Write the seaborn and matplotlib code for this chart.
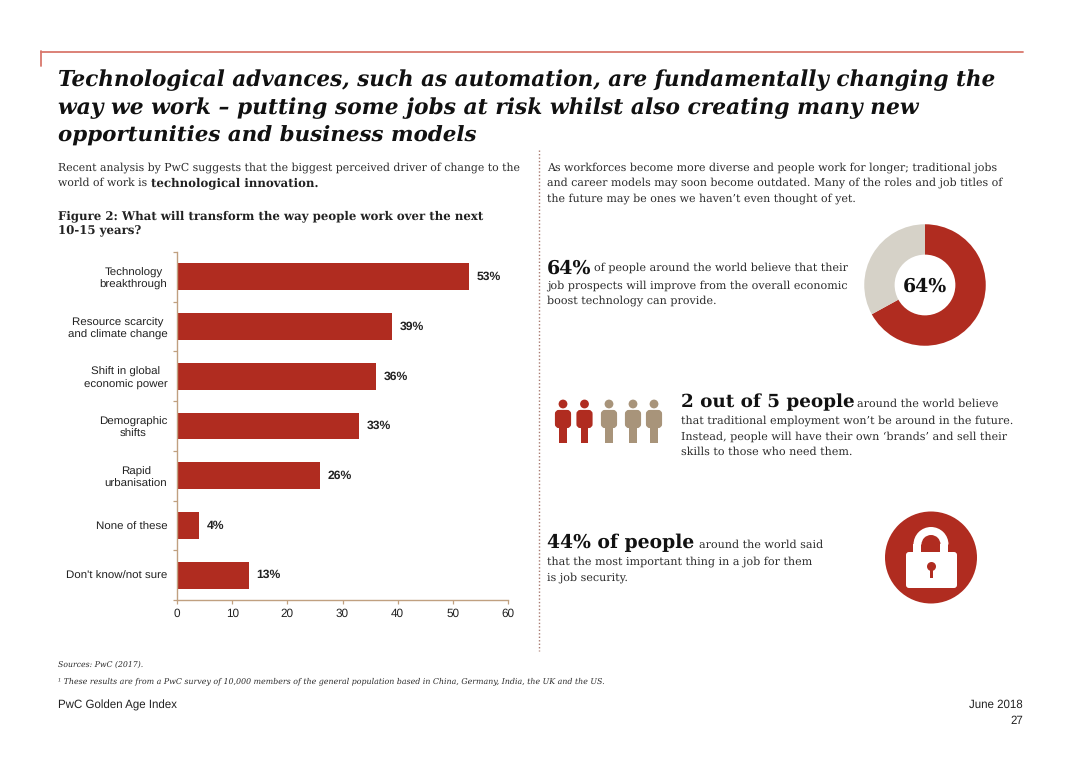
import matplotlib
matplotlib.use("Agg")
import matplotlib.pyplot as plt
from matplotlib.patches import Circle, FancyBboxPatch, Rectangle, Wedge
import pandas as pd
import seaborn as sns

categories = ["Technology\nbreakthrough", "Resource scarcity\nand climate change",
              "Shift in global\neconomic power", "Demographic\nshifts",
              "Rapid\nurbanisation", "None of these", "Don't know/not sure"]
values = [53, 39, 36, 33, 26, 4, 13]
x_ticks = [0, 10, 20, 30, 40, 50, 60]
# the ring as drawn in the reference is a little over its 64% label
donut_values = [67, 33]
donut_label = "64%"
people_total = 5
people_red = 2

RED = "#b02c20"
TAN = "#a8947a"
GREY = "#d6d2c8"
AXIS = "#c0a080"
SERIF = "DejaVu Serif"
SANS = "Liberation Sans"
W, H = 1080, 764
BODY = 7.95
TEXT = 8.05
BOLD = 8.45
BIG = 13.5

sns.set_theme(style="white")
plt.rcParams["font.family"] = SANS
plt.rcParams["text.hinting"] = "none"

fig = plt.figure(figsize=(W / 100, H / 100), dpi=100, facecolor="white")


def px_axes(x0, y0, x1, y1, **kw):
    # axes from pixel box, y counted from the top
    return fig.add_axes([x0 / W, 1 - y1 / H, (x1 - x0) / W, (y1 - y0) / H], **kw)


def txt(x, y, s, size=BODY, family=SERIF, color="#2b2b2b", **kw):
    kw.setdefault("va", "baseline")
    return fig.text(x / W, 1 - y / H, s, fontsize=size, family=family, color=color, **kw)


# page furniture
bg = px_axes(0, 0, W, H)
bg.set_xlim(0, W)
bg.set_ylim(H, 0)
bg.axis("off")
bg.plot([41, 1023], [51.5, 51.5], color="#d9776c", lw=1.3)
bg.plot([41, 41], [51, 66], color="#d9776c", lw=1.3)
bg.plot([538.5, 538.5], [150, 651], color="#a87a70", lw=1.0, ls=(0, (1, 1.5)))

# title
for y, size, line in zip([86, 114, 142], [15.53, 15.7, 15.37], [
    "Technological advances, such as automation, are fundamentally changing the",
    "way we work \u2013 putting some jobs at risk whilst also creating many new",
    "opportunities and business models",
]):
    txt(58, y, line, size=size, weight="bold", style="italic", color="#111111")

# left text
txt(58, 171, "Recent analysis by PwC suggests that the biggest perceived driver of change to the", size=7.84)
txt(58, 186, "world of work is", size=7.84)
txt(151, 186, "technological innovation.", size=BOLD, weight="bold", color="#222222")
txt(58, 219, "Figure 2: What will transform the way people work over the next", size=BOLD, weight="bold", color="#222222")
txt(58, 234, "10-15 years?", size=BOLD, weight="bold", color="#222222")

# right text
for y, line in zip([171, 186, 202], [
    "As workforces become more diverse and people work for longer; traditional jobs",
    "and career models may soon become outdated. Many of the roles and job titles of",
    "the future may be ones we haven\u2019t even thought of yet.",
]):
    txt(547, y, line)

# bar chart
ax = px_axes(177, 252, 508, 600)
df = pd.DataFrame({"category": categories, "value": values})
sns.barplot(df, x="value", y="category", color=RED, saturation=1, width=0.54, linewidth=0, ax=ax)
ax.set_xlim(0, 60)
ax.set_ylim(6.5, -0.5)
ax.set_xlabel("")
ax.set_ylabel("")
ax.set_xticks(x_ticks)
ax.set_yticks([i - 0.5 for i in range(len(categories) + 1)], minor=True)
ax.set_yticks(range(len(categories)))
ax.set_yticklabels(categories, fontsize=8.25, color="#222222", linespacing=1.27, multialignment="center")
ax.tick_params(axis="x", which="major", length=3, width=0.9, color=AXIS, labelsize=8.5,
               labelcolor="#222222", bottom=True, pad=3)
ax.tick_params(axis="y", which="major", length=0, pad=7)
ax.tick_params(axis="y", which="minor", length=3, width=0.9, color=AXIS, left=True)
sns.despine(ax=ax)
for side in ["left", "bottom"]:
    ax.spines[side].set_color(AXIS)
    ax.spines[side].set_linewidth(1.0)
for cont in ax.containers:
    ax.bar_label(cont, fmt="%g%%", padding=5.5, fontsize=8.7, fontweight="bold", color="#222222")

# 64% block
txt(547, 274, "64%", size=13.7, weight="bold", color="#111111")
txt(594, 271, "of people around the world believe that their", size=TEXT)
txt(547, 289, "job prospects will improve from the overall economic", size=TEXT)
txt(547, 304, "boost technology can provide.", size=TEXT)

# donut
ax_d = px_axes(860, 220, 990, 350)
ax_d.pie(donut_values, colors=[RED, GREY], startangle=90, counterclock=False, radius=1,
         wedgeprops={"width": 0.5, "linewidth": 0})
ax_d.set_xlim(-1.07, 1.07)
ax_d.set_ylim(-1.07, 1.07)
ax_d.text(0, -0.02, donut_label, ha="center", va="center", fontsize=13.6,
          weight="bold", family=SERIF, color="#111111")

# people row
ax_p = px_axes(550, 392, 670, 450)
ax_p.set_xlim(550, 670)
ax_p.set_ylim(450, 392)
ax_p.axis("off")
for i, cx in enumerate([563, 584.5, 609, 633, 654][:people_total]):
    c = RED if i < people_red else TAN
    ax_p.add_patch(Circle((cx, 404), 4.4, color=c, lw=0))
    ax_p.add_patch(FancyBboxPatch((cx - 6, 412), 12, 14, boxstyle="round,pad=0,rounding_size=2",
                                  mutation_aspect=1, fc=c, ec=c, lw=3))
    ax_p.add_patch(Rectangle((cx - 3.7, 428), 7.4, 15, color=c, lw=0))

# 2 out of 5 block
txt(681, 407, "2 out of 5 people", size=13.2, weight="bold", color="#111111")
txt(857, 407, "around the world believe", size=TEXT)
txt(681, 424, "that traditional employment won\u2019t be around in the future.", size=TEXT)
txt(681, 440, "Instead, people will have their own \u2018brands\u2019 and sell their", size=TEXT)
txt(681, 455, "skills to those who need them.", size=TEXT)

# 44% block
txt(547, 548, "44% of people", size=BIG, weight="bold", color="#111111")
txt(699, 548, "around the world said", size=TEXT)
txt(547, 565, "that the most important thing in a job for them", size=TEXT)
txt(547, 581, "is job security.", size=TEXT)

# lock icon
ax_l = px_axes(880, 508, 980, 608)
ax_l.set_xlim(880, 980)
ax_l.set_ylim(608, 508)
ax_l.axis("off")
ax_l.add_patch(Circle((931, 557.5), 46, color=RED, lw=0))
ax_l.add_patch(Wedge((931, 544.5), 17.5, 180, 360, width=8, color="white", lw=0))
ax_l.add_patch(Rectangle((913.5, 544), 8, 10, color="white", lw=0))
ax_l.add_patch(Rectangle((940.5, 544), 8, 10, color="white", lw=0))
ax_l.add_patch(FancyBboxPatch((906, 552), 51, 36, boxstyle="round,pad=0,rounding_size=3", fc="white", ec="none"))
ax_l.add_patch(Circle((931.5, 566.5), 4.5, color=RED, lw=0))
ax_l.add_patch(Rectangle((930, 567), 3, 11, color=RED, lw=0))

# footer
txt(58, 667, "Sources: PwC (2017).", size=5.6, style="italic")
txt(58, 683, "\u00b9 These results are from a PwC survey of 10,000 members of the general population based in China, Germany, India, the UK and the US.",
    size=5.68, style="italic")
txt(58, 709, "PwC Golden Age Index", size=8.3, family=SANS, color="#222222")
txt(1023, 708, "June 2018", size=8.3, family=SANS, color="#222222", ha="right")
txt(1023, 724, "27", size=8.3, family=SANS, color="#222222", ha="right")

fig.savefig("out.png", dpi=100)
